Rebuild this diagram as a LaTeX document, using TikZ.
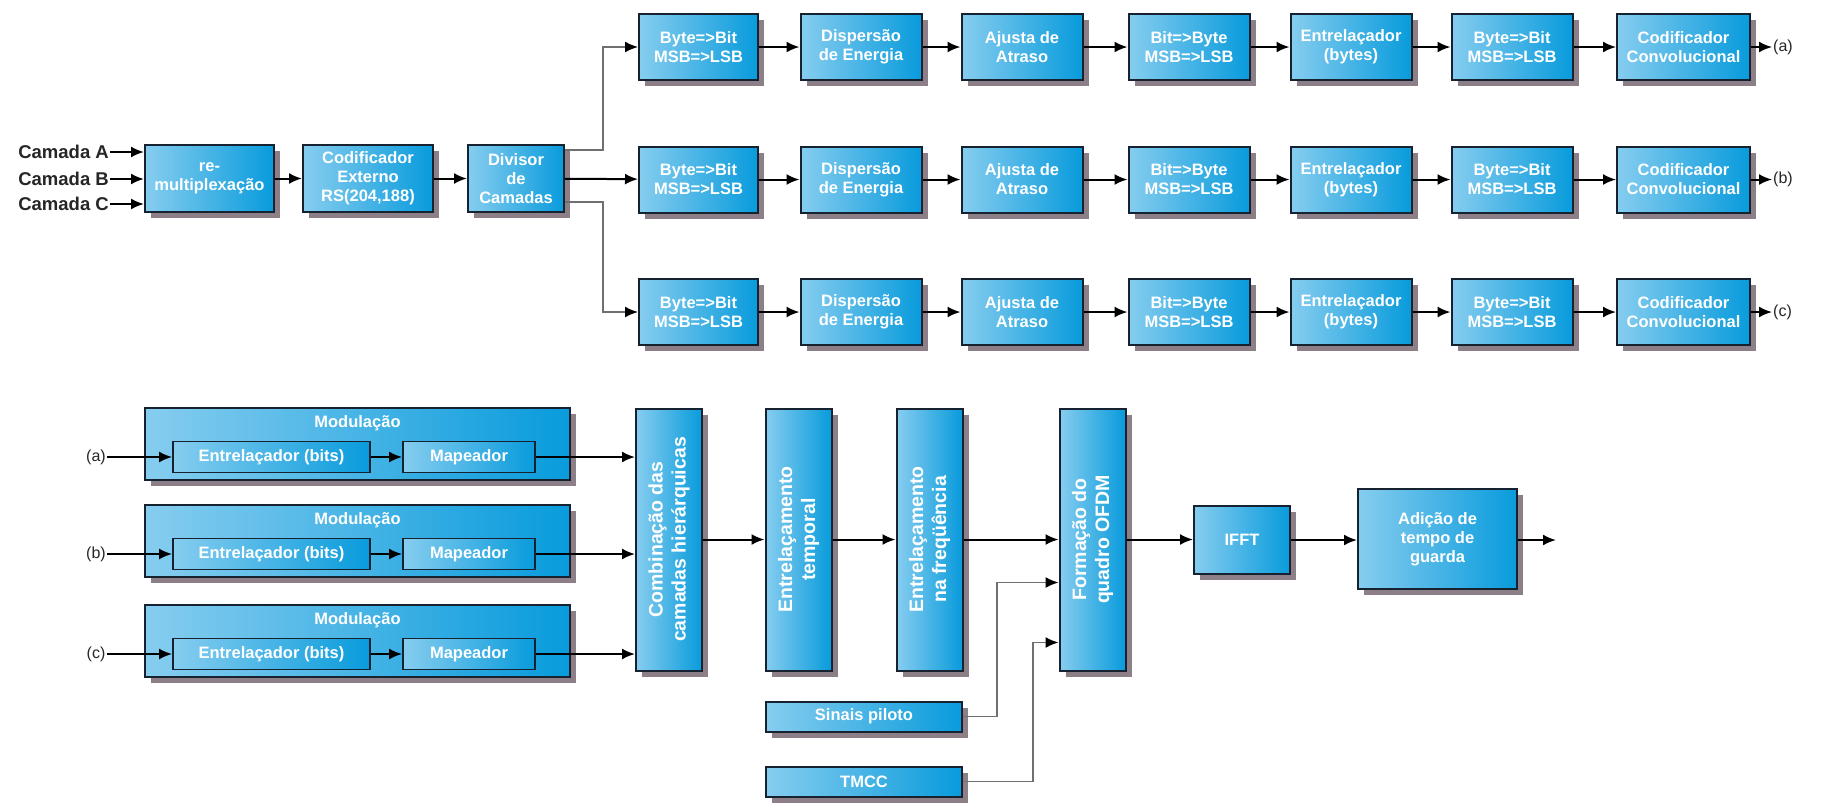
\documentclass[tikz,border=0pt]{standalone}
\usepackage{fontspec}
\setmainfont{Liberation Sans}
\usetikzlibrary{arrows.meta,shadows}
\definecolor{bl1}{HTML}{86CDEF}
\definecolor{bl2}{HTML}{089BDC}
\definecolor{bdr}{HTML}{16222F}
\definecolor{shd}{HTML}{8C7F88}
\definecolor{gln}{HTML}{707070}
\tikzset{
  blk/.style={draw=bdr, line width=2pt, left color=bl1, right color=bl2,
    drop shadow={shadow xshift=6pt, shadow yshift=-6pt, fill=shd, opacity=1},
    font=\bfseries\fontsize{16.5}{19}\selectfont, text=white, align=center, inner sep=0pt},
  inbox/.style={draw=bdr, line width=1.8pt, left color=bl1, right color=bl2,
    font=\bfseries\fontsize{16.5}{19}\selectfont, text=white, align=center, inner sep=0pt},
  vtxt/.style={rotate=90, font=\bfseries\fontsize{19.5}{23}\selectfont, text=white, align=center, inner sep=0pt},
  ttl/.style={font=\bfseries\fontsize{16.5}{19}\selectfont, text=white, inner sep=0pt},
  cam/.style={font=\bfseries\fontsize{18.5}{21}\selectfont, text=black!85, anchor=east, inner sep=1pt},
  lbl/.style={font=\fontsize{16}{18}\selectfont, text=black!85, inner sep=1pt},
  arr/.style={line width=2pt, -{Latex[length=13pt,width=11pt]}},
  garr/.style={line width=1.6pt, draw=gln, -{Latex[length=13pt,width=11pt,color=black,fill=black]}},
}
\begin{document}
\begin{tikzpicture}[x=1pt,y=-1pt]
\useasboundingbox (0,0) rectangle (1844,806);
% ---------- top left ----------
\node[blk, minimum width=129pt, minimum height=67pt] (remux) at (209.5,178.5) {re-\\multiplexação};
\node[blk, minimum width=130pt, minimum height=67pt] (rs) at (368,178.5) {Codificador\\Externo\\RS(204,188)};
\node[blk, minimum width=96pt, minimum height=67pt] (div) at (516,178.5) {Divisor\\de\\Camadas};
\node[cam] (camA) at (110,152) {Camada A};
\node[cam] (camB) at (110,179) {Camada B};
\node[cam] (camC) at (110,204) {Camada C};
\draw[arr] (camA.east) -- (camA.east -| remux.west);
\draw[arr] (camB.east) -- (camB.east -| remux.west);
\draw[arr] (camC.east) -- (camC.east -| remux.west);
\draw[arr] (remux) -- (rs);
\draw[arr] (rs) -- (div);
% ---------- three rows ----------
\foreach \r/\y in {a/47,b/179.5,c/312}{
  \node[blk, minimum width=119pt, minimum height=66pt] (\r1) at (698.5,\y) {Byte=>Bit\\MSB=>LSB};
  \node[blk, minimum width=121pt, minimum height=66pt] (\r2) at (861,\y) {Dispersão\\de Energia};
  \node[blk, minimum width=121pt, minimum height=66pt] (\r3) at (1022,\y) {Ajusta de\\Atraso};
  \node[blk, minimum width=121pt, minimum height=66pt] (\r4) at (1189,\y) {Bit=>Byte\\MSB=>LSB};
  \node[blk, minimum width=121pt, minimum height=66pt] (\r5) at (1351,\y) {Entrelaçador\\(bytes)};
  \node[blk, minimum width=121pt, minimum height=66pt] (\r6) at (1512,\y) {Byte=>Bit\\MSB=>LSB};
  \node[blk, minimum width=133pt, minimum height=66pt] (\r7) at (1683.5,\y) {Codificador\\Convolucional};
  \node[lbl, anchor=west] (\r out) at (1772,\y) {(\r)};
  \draw[arr] (\r1) -- (\r2);
  \draw[arr] (\r2) -- (\r3);
  \draw[arr] (\r3) -- (\r4);
  \draw[arr] (\r4) -- (\r5);
  \draw[arr] (\r5) -- (\r6);
  \draw[arr] (\r6) -- (\r7);
  \draw[arr] (\r7) -- (\r out);
}
\draw[garr] ([yshift=28.5pt]div.east) -- ++(38,0) |- (a1.west);
\draw[arr] (div) -- (b1);
\draw[garr] ([yshift=-23.5pt]div.east) -- ++(38,0) |- (c1.west);
% ---------- modulation ----------
\foreach \r/\y in {a/444,b/541,c/641}{
  \node[blk, minimum width=425pt, minimum height=72pt] (m\r) at (357.5,\y) {};
  \node[ttl] (mt\r) at (357.5,\y-21) {Modulação};
  \node[inbox, minimum width=197pt, minimum height=31pt] (e\r) at (271.5,\y+13) {Entrelaçador (bits)};
  \node[inbox, minimum width=132pt, minimum height=31pt] (p\r) at (469,\y+13) {Mapeador};
  \node[lbl] (in\r) at (96,\y+13) {(\r)};
}
% ---------- vertical blocks ----------
\node[blk, minimum width=66pt, minimum height=262pt] (comb) at (669,539.5) {};
\node[vtxt] (combt) at (comb) {Combinação das\\camadas hierárquicas};
\node[blk, minimum width=66pt, minimum height=262pt] (temp) at (798.5,539.5) {};
\node[vtxt] (tempt) at (temp) {Entrelaçamento\\temporal};
\node[blk, minimum width=66pt, minimum height=262pt] (freq) at (929.5,539.5) {};
\node[vtxt] (freqt) at (freq) {Entrelaçamento\\na freqüência};
\node[blk, minimum width=66pt, minimum height=262pt] (form) at (1092.5,539.5) {};
\node[vtxt] (formt) at (form) {Formação do\\quadro OFDM};
\foreach \r in {a,b,c}{
  \draw[arr] (in\r) -- (e\r);
  \draw[arr] (e\r) -- (p\r);
  \draw[arr] (p\r.east) -- (p\r.east -| comb.west);
}
\node[blk, minimum width=96pt, minimum height=68pt] (ifft) at (1242,540) {IFFT};
\node[blk, minimum width=159pt, minimum height=100pt] (guard) at (1437.5,539) {Adição de\\tempo de\\guarda};
\coordinate (out) at (1556,540);
\draw[arr] (comb) -- (temp);
\draw[arr] (temp) -- (freq);
\draw[arr] (freq) -- (form);
\draw[arr] (form.east) -- (form.east -| ifft.west);
\draw[arr] (ifft.east) -- (ifft.east -| guard.west);
\draw[arr] (guard.east |- out) -- (out);
% ---------- pilot / TMCC ----------
\node[blk, minimum width=196pt, minimum height=30pt] (pil) at (864,716.5) {Sinais piloto};
\node[blk, minimum width=196pt, minimum height=30pt] (tmcc) at (864,781.5) {TMCC};
\draw[garr] (pil.east) -- ++(34,0) |- ([yshift=-43pt]form.west);
\draw[garr] (tmcc.east) -- ++(70,0) |- ([yshift=-103pt]form.west);
\end{tikzpicture}
\end{document}
